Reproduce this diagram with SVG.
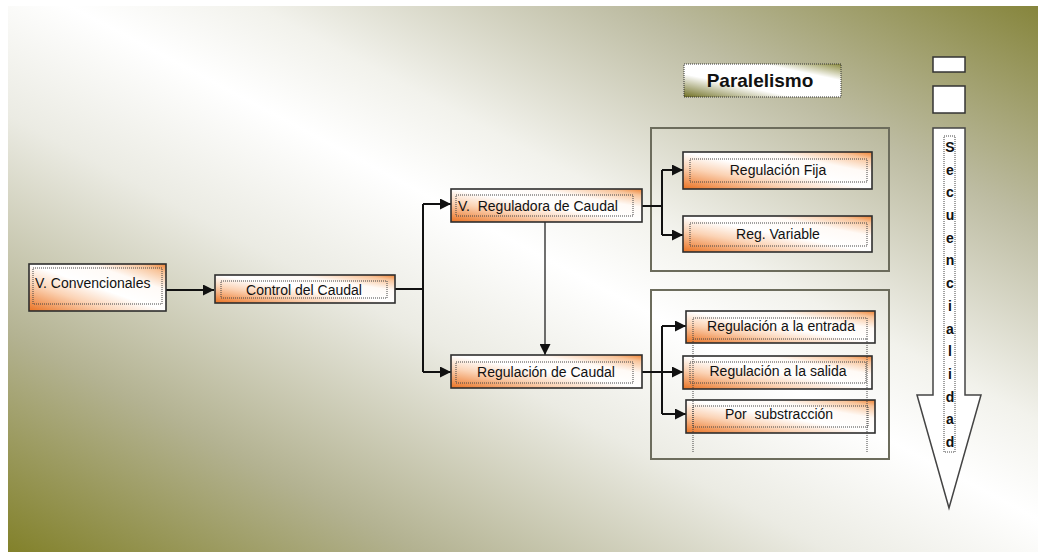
<svg xmlns="http://www.w3.org/2000/svg" width="1038" height="552" viewBox="0 0 1038 552">
  <defs>
    <linearGradient id="bg" x1="1" y1="0" x2="0" y2="1">
      <stop offset="0" stop-color="#86853c"/>
      <stop offset="0.2" stop-color="#bdbca2"/>
      <stop offset="0.38" stop-color="#f2f2ec"/>
      <stop offset="0.47" stop-color="#ffffff"/>
      <stop offset="0.6" stop-color="#ebebe3"/>
      <stop offset="0.8" stop-color="#b3b291"/>
      <stop offset="1" stop-color="#82812a"/>
    </linearGradient>
    <linearGradient id="orange" x1="0" y1="1" x2="1" y2="0">
      <stop offset="0" stop-color="#ea7222"/>
      <stop offset="0.3" stop-color="#fbd3b5"/>
      <stop offset="0.5" stop-color="#ffffff"/>
      <stop offset="0.72" stop-color="#fffaf6"/>
      <stop offset="0.9" stop-color="#f8c49a"/>
      <stop offset="1" stop-color="#ef8232"/>
    </linearGradient>
    <linearGradient id="olive" x1="0" y1="1" x2="1" y2="0">
      <stop offset="0" stop-color="#6f6f22"/>
      <stop offset="0.35" stop-color="#ffffff"/>
      <stop offset="0.75" stop-color="#ffffff"/>
      <stop offset="1" stop-color="#8a8a3e"/>
    </linearGradient>
    <marker id="ah" markerUnits="userSpaceOnUse" markerWidth="11" markerHeight="11" refX="11" refY="5.5" orient="auto">
      <path d="M0,0 L11,5.5 L0,11 z" fill="#111"/>
    </marker>
  </defs>
  <style>
    .node { fill: url(#orange); stroke: #2e2e2e; stroke-width: 1.6; }
    .inner { fill: none; stroke: #444; stroke-width: 1; stroke-dasharray: 1 1; }
    .lbl { font-family: "Liberation Sans", Arial, sans-serif; font-size: 14px; fill: #111; }
    .mid { text-anchor: middle; }
    .grp { fill: none; stroke: #6c6c5c; stroke-width: 2; }
    .wire { fill: none; stroke: #111; stroke-width: 2; }
    .thin { fill: none; stroke: #111; stroke-width: 1.2; }
    .letter { font-family: "Liberation Sans", Arial, sans-serif; font-size: 14px; font-weight: bold; fill: #111; text-anchor: middle; }
  </style>

  <!-- background -->
  <rect x="0" y="0" width="1038" height="552" fill="#ffffff"/>
  <rect x="8" y="6" width="1030" height="546" fill="url(#bg)"/>

  <!-- grouping frames -->
  <g id="frames">
    <rect class="grp" x="651" y="128" width="238" height="143"/>
    <rect class="grp" x="651" y="290" width="238" height="169"/>
  </g>

  <!-- connectors -->
  <g id="connectors">
    <path class="wire" d="M166,290 H214" marker-end="url(#ah)"/>
    <path class="wire" d="M395,289 H423 M423,204 V372"/>
    <path class="wire" d="M423,204 H451" marker-end="url(#ah)"/>
    <path class="wire" d="M423,372 H451" marker-end="url(#ah)"/>
    <path class="thin" d="M545,222 V355" marker-end="url(#ah)"/>
    <path class="wire" d="M642,206 H662 M662,170 V235"/>
    <path class="wire" d="M662,170 H683" marker-end="url(#ah)"/>
    <path class="wire" d="M662,235 H683" marker-end="url(#ah)"/>
    <path class="wire" d="M642,372 H662 M662,326 V414"/>
    <path class="wire" d="M662,326 H686" marker-end="url(#ah)"/>
    <path class="wire" d="M662,372 H683" marker-end="url(#ah)"/>
    <path class="wire" d="M662,414 H686" marker-end="url(#ah)"/>
  </g>

  <g id="n-convencionales">
    <rect class="node" x="29" y="264" width="137" height="47"/>
    <rect class="inner" x="33" y="268" width="129" height="36"/>
    <text class="lbl" x="35" y="288">V. Convencionales</text>
  </g>

  <g id="n-control">
    <rect class="node" x="215" y="275" width="180" height="28"/>
    <rect class="inner" x="221" y="281" width="166" height="17"/>
    <text class="lbl mid" x="304" y="295">Control del Caudal</text>
  </g>

  <g id="n-reguladora">
    <rect class="node" x="451" y="189" width="191" height="33"/>
    <rect class="inner" x="456" y="195" width="177" height="21"/>
    <text class="lbl" x="458" y="211" xml:space="preserve">V.  Reguladora de Caudal</text>
  </g>

  <g id="n-regulacion">
    <rect class="node" x="451" y="355" width="191" height="33"/>
    <rect class="inner" x="456" y="362" width="177" height="21"/>
    <text class="lbl mid" x="546" y="377">Regulación de Caudal</text>
  </g>

  <g id="n-fija">
    <rect class="node" x="683" y="152" width="189" height="37"/>
    <rect class="inner" x="690" y="159" width="177" height="23"/>
    <text class="lbl mid" x="778" y="175">Regulación Fija</text>
  </g>

  <g id="n-variable">
    <rect class="node" x="683" y="216" width="189" height="36"/>
    <rect class="inner" x="690" y="223" width="177" height="23"/>
    <text class="lbl mid" x="778" y="239">Reg. Variable</text>
  </g>

  <g id="n-entrada">
    <rect class="node" x="686" y="311" width="189" height="32"/>
    <rect class="inner" x="693" y="318" width="174" height="21"/>
    <text class="lbl mid" x="781" y="331">Regulación a la entrada</text>
  </g>

  <g id="n-salida">
    <rect class="node" x="683" y="356" width="189" height="33"/>
    <rect class="inner" x="690" y="362" width="176" height="21"/>
    <text class="lbl mid" x="778" y="376">Regulación a la salida</text>
  </g>

  <g id="n-substraccion">
    <rect class="node" x="686" y="400" width="189" height="33"/>
    <rect class="inner" x="693" y="406" width="175" height="21"/>
    <text class="lbl mid" x="779" y="419" xml:space="preserve">Por  substracción</text>
  </g>

  <!-- dotted guides along the lower branch -->
  <g id="guides">
    <path class="inner" d="M693,339 V452 M867,339 V452"/>
  </g>

  <g id="n-paralelismo">
    <rect x="684" y="64" width="157" height="33" fill="url(#olive)" stroke="#333" stroke-width="1" stroke-dasharray="1 1"/>
    <text x="760" y="87" font-family="'Liberation Sans', Arial, sans-serif" font-size="19" font-weight="bold" fill="#111" text-anchor="middle">Paralelismo</text>
  </g>

  <g id="legend-marks">
    <rect x="933" y="57" width="32" height="15" fill="#fff" stroke="#333" stroke-width="1.5"/>
    <rect x="933" y="86" width="32" height="27" fill="#fff" stroke="#333" stroke-width="1.5"/>
  </g>

  <g id="n-secuencialidad">
    <polygon points="933,128 965,128 965,395 981,395 949,508 917,395 933,395" fill="#fff" stroke="#444" stroke-width="1.5"/>
    <rect class="inner" x="944" y="136" width="11" height="316"/>
    <text class="letter" x="950" y="152">S</text>
    <text class="letter" x="950" y="175">e</text>
    <text class="letter" x="950" y="197">c</text>
    <text class="letter" x="950" y="220">u</text>
    <text class="letter" x="950" y="243">e</text>
    <text class="letter" x="950" y="265">n</text>
    <text class="letter" x="950" y="288">c</text>
    <text class="letter" x="950" y="311">i</text>
    <text class="letter" x="950" y="334">a</text>
    <text class="letter" x="950" y="356">l</text>
    <text class="letter" x="950" y="379">i</text>
    <text class="letter" x="950" y="402">d</text>
    <text class="letter" x="950" y="424">a</text>
    <text class="letter" x="950" y="447">d</text>
  </g>
</svg>
